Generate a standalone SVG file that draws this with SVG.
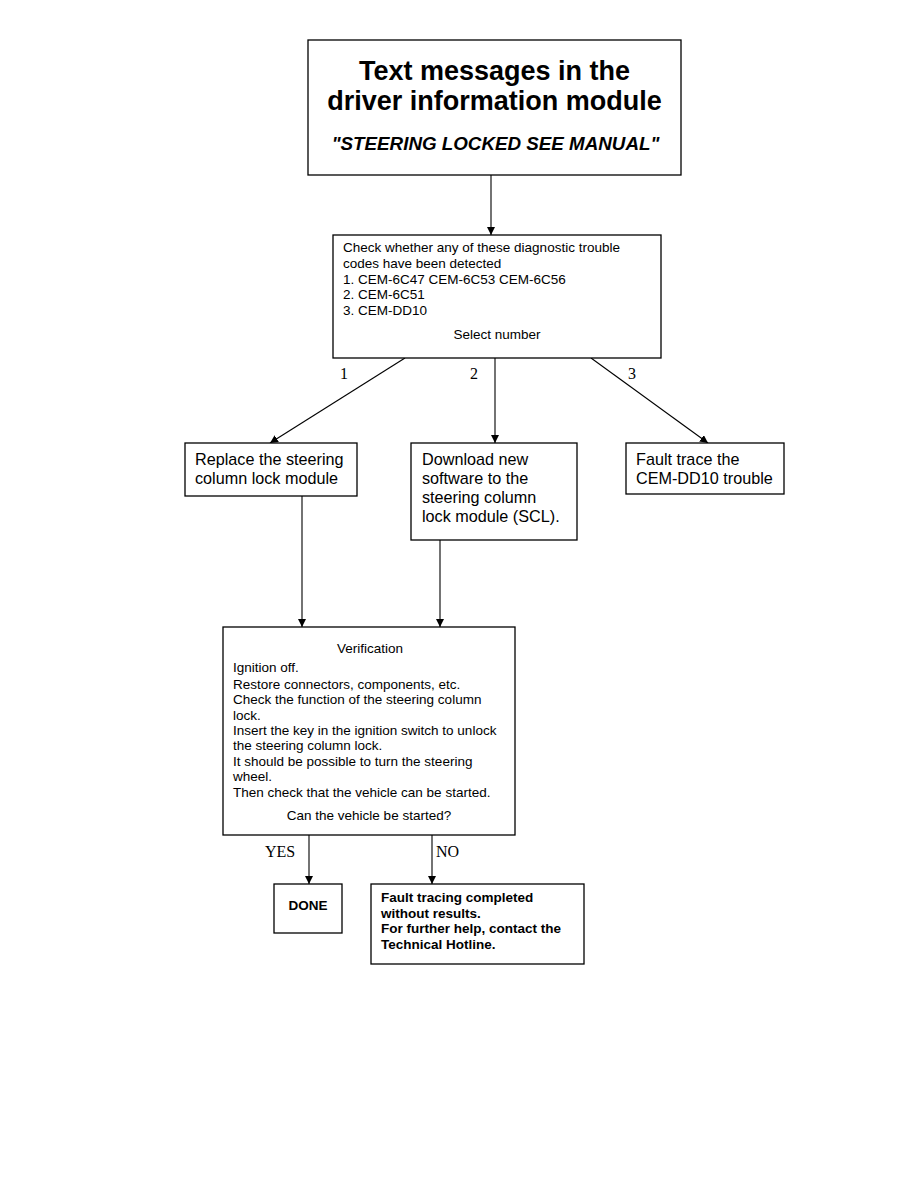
<svg xmlns="http://www.w3.org/2000/svg" width="918" height="1188" viewBox="0 0 918 1188">
<style>
.box{fill:#fff;stroke:#000;stroke-width:1.3}
.t{font-family:"Liberation Sans",Arial,sans-serif;font-size:13.5px;fill:#000}
.m{font-family:"Liberation Sans",Arial,sans-serif;font-size:16.2px;fill:#000}
.b{font-family:"Liberation Sans",Arial,sans-serif;font-size:13.5px;font-weight:bold;fill:#000}
.lbl{font-family:"Liberation Serif","Times New Roman",serif;font-size:16px;fill:#000}
.c{fill:none;stroke:#000;stroke-width:1.1}
</style>
<defs>
<marker id="ah" viewBox="0 0 10 10" refX="10" refY="5" markerWidth="8" markerHeight="8" markerUnits="userSpaceOnUse" orient="auto">
<path d="M0,0 L10,5 L0,10 z" fill="#000"/>
</marker>
</defs>
<rect width="918" height="1188" fill="#fff"/>
<g id="connectors">
<line class="c" x1="491" y1="175" x2="491" y2="235" marker-end="url(#ah)"/>
<line class="c" x1="405" y1="358" x2="270" y2="443" marker-end="url(#ah)"/>
<line class="c" x1="495" y1="358" x2="495" y2="443" marker-end="url(#ah)"/>
<line class="c" x1="591" y1="358" x2="708" y2="443" marker-end="url(#ah)"/>
<line class="c" x1="302" y1="496" x2="302" y2="627" marker-end="url(#ah)"/>
<line class="c" x1="440" y1="540" x2="440" y2="627" marker-end="url(#ah)"/>
<line class="c" x1="309" y1="835" x2="309" y2="884" marker-end="url(#ah)"/>
<line class="c" x1="432" y1="835" x2="432" y2="884" marker-end="url(#ah)"/>
<text class="lbl" x="340" y="379">1</text>
<text class="lbl" x="470" y="379">2</text>
<text class="lbl" x="628" y="379">3</text>
<text class="lbl" x="265" y="857">YES</text>
<text class="lbl" x="436" y="857">NO</text>
</g>
<g id="title">
<rect class="box" x="308" y="40" width="373" height="135"/>
<text x="494.5" y="80" text-anchor="middle" font-family="Liberation Sans,Arial,sans-serif" font-size="27" font-weight="bold">Text messages in the</text>
<text x="494.5" y="110" text-anchor="middle" font-family="Liberation Sans,Arial,sans-serif" font-size="27" font-weight="bold">driver information module</text>
<text x="495.5" y="150" text-anchor="middle" font-family="Liberation Sans,Arial,sans-serif" font-size="18.8" font-weight="bold" font-style="italic">"STEERING LOCKED SEE MANUAL"</text>
</g>
<g id="dtc">
<rect class="box" x="333" y="235" width="328" height="123"/>
<text class="t" x="343" y="252">Check whether any of these diagnostic trouble</text>
<text class="t" x="343" y="268">codes have been detected</text>
<text class="t" x="343" y="284">1. CEM-6C47 CEM-6C53 CEM-6C56</text>
<text class="t" x="343" y="299">2. CEM-6C51</text>
<text class="t" x="343" y="315">3. CEM-DD10</text>
<text class="t" x="497" y="339" text-anchor="middle">Select number</text>
</g>
<g id="replace">
<rect class="box" x="185" y="443" width="172" height="53"/>
<text class="m" x="195" y="465">Replace the steering</text>
<text class="m" x="195" y="484">column lock module</text>
</g>
<g id="download">
<rect class="box" x="411" y="443" width="166" height="97"/>
<text class="m" x="422" y="465">Download new</text>
<text class="m" x="422" y="484">software to the</text>
<text class="m" x="422" y="503">steering column</text>
<text class="m" x="422" y="522">lock module (SCL).</text>
</g>
<g id="faulttrace">
<rect class="box" x="626" y="443" width="158" height="51"/>
<text class="m" x="636" y="465">Fault trace the</text>
<text class="m" x="636" y="484">CEM-DD10 trouble</text>
</g>
<g id="verification">
<rect class="box" x="223" y="627" width="292" height="208"/>
<text class="t" x="370" y="653" text-anchor="middle">Verification</text>
<text class="t" x="233" y="672">Ignition off.</text>
<text class="t" x="233" y="689">Restore connectors, components, etc.</text>
<text class="t" x="233" y="704">Check the function of the steering column</text>
<text class="t" x="233" y="720">lock.</text>
<text class="t" x="233" y="735">Insert the key in the ignition switch to unlock</text>
<text class="t" x="233" y="750">the steering column lock.</text>
<text class="t" x="233" y="766">It should be possible to turn the steering</text>
<text class="t" x="233" y="781">wheel.</text>
<text class="t" x="233" y="797">Then check that the vehicle can be started.</text>
<text class="t" x="369" y="820" text-anchor="middle">Can the vehicle be started?</text>
</g>
<g id="done">
<rect class="box" x="274" y="884" width="68" height="49"/>
<text class="b" x="308" y="910" text-anchor="middle">DONE</text>
</g>
<g id="fault">
<rect class="box" x="371" y="884" width="213" height="80"/>
<text class="b" x="381" y="902">Fault tracing completed</text>
<text class="b" x="381" y="918">without results.</text>
<text class="b" x="381" y="933">For further help, contact the</text>
<text class="b" x="381" y="949">Technical Hotline.</text>
</g>
</svg>
